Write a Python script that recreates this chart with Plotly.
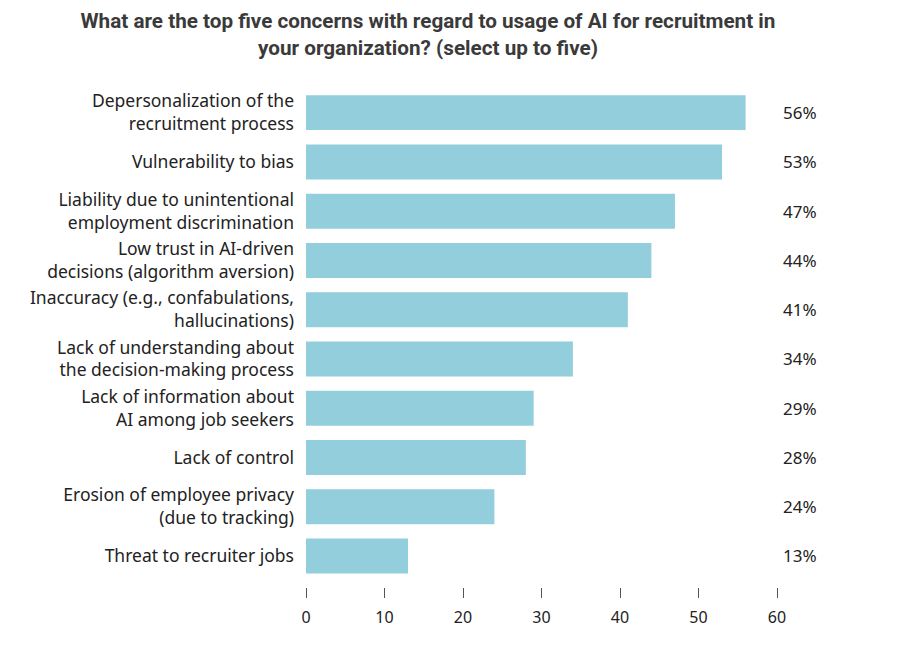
import plotly.graph_objects as go

categories = [
    "Depersonalization of the<br>recruitment process",
    "Vulnerability to bias",
    "Liability due to unintentional<br>employment discrimination",
    "Low trust in AI-driven<br>decisions (algorithm aversion)",
    "Inaccuracy (e.g., confabulations,<br>hallucinations)",
    "Lack of understanding about<br>the decision-making process",
    "Lack of information about<br>AI among job seekers",
    "Lack of control",
    "Erosion of employee privacy<br>(due to tracking)",
    "Threat to recruiter jobs",
]
values = [56, 53, 47, 44, 41, 34, 29, 28, 24, 13]
tick_vals = [0, 10, 20, 30, 40, 50, 60]

fig = go.Figure()
fig.add_trace(go.Bar(
    x=values, y=categories, orientation="h",
    marker=dict(color="#92CEDC", line=dict(width=0)),
    width=0.71, hoverinfo="skip",
))

for c, v in zip(categories, values):
    fig.add_annotation(
        x=1.049, xref="paper", y=c, yref="y", text=f"{v}%",
        showarrow=False, xanchor="center",
        font=dict(family="Noto Sans", size=17, color="#222222"),
    )

fig.update_layout(
    width=920, height=646,
    margin=dict(l=298, r=151, t=80, b=67, autoexpand=False),
    paper_bgcolor="white", plot_bgcolor="white",
    showlegend=False,
    title=dict(
        text="What are the top five concerns with regard to usage of AI for recruitment in<br>your organization? (select up to five)",
        x=0.4565, xanchor="center", y=0.969, yanchor="top",
        font=dict(family="Roboto", size=20.7, color="#3a3a3a", weight="bold"),
    ),
    xaxis=dict(
        range=[0, 60], tickvals=tick_vals, showgrid=False, zeroline=False,
        showline=False, ticks="outside", ticklen=10, tickwidth=1,
        tickcolor="#555555", ticklabelstandoff=6, automargin=False,
        tickfont=dict(family="Noto Sans", size=16, color="#222222"),
    ),
    yaxis=dict(
        autorange=False, range=[9.63, -0.5], categoryorder="array",
        categoryarray=categories, automargin=False,
        showgrid=False, zeroline=False, showline=False, ticks="",
        ticklabelstandoff=11,
        tickfont=dict(family="Noto Sans", size=17.5, color="#222222"),
    ),
)

fig.write_html("out.html")
